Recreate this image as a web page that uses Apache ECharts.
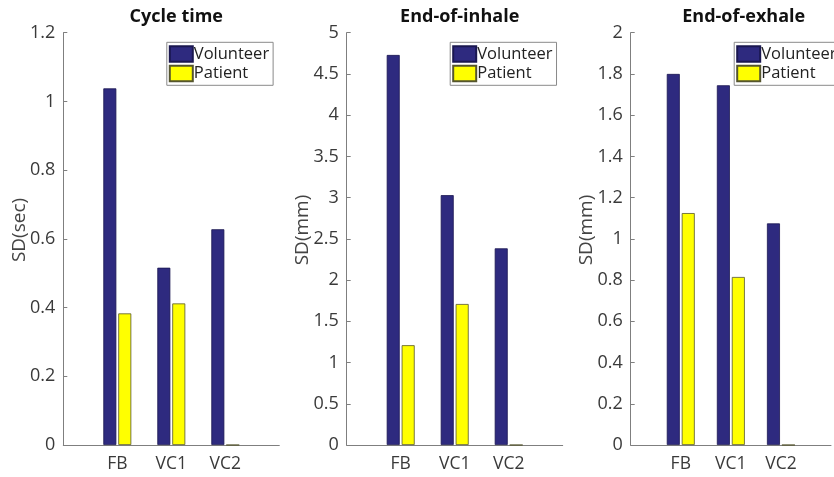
<!DOCTYPE html>
<html>
<head>
<meta charset="utf-8">
<script src="https://cdn.jsdelivr.net/npm/echarts@6/dist/echarts.min.js"></script>
<style>
  html, body { margin: 0; padding: 0; background: #ffffff; }
  #chart { width: 834px; height: 477px; }
</style>
</head>
<body>
<div id="chart"></div>
<script>
// Breathing-variability standard deviations per coaching method
const categories = ['FB', 'VC1', 'VC2'];
const seriesNames = ['Volunteer', 'Patient'];

const cycleVolunteer = [1.038, 0.516, 0.628];
const cyclePatient = [0.383, 0.412, 0];

const inhaleVolunteer = [4.73, 3.03, 2.385];
const inhalePatient = [1.21, 1.71, 0];

const exhaleVolunteer = [1.80, 1.745, 1.075];
const exhalePatient = [1.125, 0.815, 0];

const panelTitles = ['Cycle time', 'End-of-inhale', 'End-of-exhale'];
const yNames = ['SD(sec)', 'SD(mm)', 'SD(mm)'];
const yMax = [1.2, 5, 2];
const yStep = [0.2, 0.5, 0.2];

const panels = [
  [cycleVolunteer, cyclePatient],
  [inhaleVolunteer, inhalePatient],
  [exhaleVolunteer, exhalePatient]
];

const FONT = 'Open Sans';
const colors = ['#2e2a7f', '#ffff00'];
const edge = ['#1a1750', '#55552e'];

// Axes run from 0 to 4 with the groups at 1, 2, 3
const xCats = [''].concat(categories, ['']);
const pad = arr => ['-'].concat(arr, ['-']);

const gridLeft = [63.3, 346.7, 630.7];
const gridTop = 32.7, gridHeight = 412.3, gridWidth = 216;

const option = {
  animation: false,
  backgroundColor: '#ffffff',
  title: [], grid: [], xAxis: [], yAxis: [], legend: [], series: [], graphic: []
};

panels.forEach((pair, i) => {
  const gl = gridLeft[i];
  option.title.push({
    text: panelTitles[i],
    left: gl + gridWidth / 2,
    top: 3,
    textAlign: 'center',
    textStyle: { fontFamily: FONT, fontWeight: 'bold', fontSize: 18, color: '#111111' }
  });
  option.grid.push({ left: gl, top: gridTop, width: gridWidth, height: gridHeight, containLabel: false });
  option.xAxis.push({
    type: 'category', gridIndex: i, data: xCats, boundaryGap: false,
    axisLine: { lineStyle: { color: '#7f7f7f', width: 1 } },
    axisTick: { show: false },
    axisLabel: { fontFamily: FONT, fontSize: 17.5, color: '#3a3a3a', margin: 10, interval: 0 },
    splitLine: { show: false }
  });
  option.yAxis.push({
    type: 'value', gridIndex: i, min: 0, max: yMax[i], interval: yStep[i],
    axisLine: { show: true, lineStyle: { color: '#7f7f7f', width: 1 } },
    axisTick: { show: true, inside: true, length: 4, lineStyle: { color: '#7f7f7f' } },
    axisLabel: { fontFamily: FONT, fontSize: 18, color: '#3a3a3a', margin: 8 },
    splitLine: { show: false }
  });
  option.legend.push({
    orient: 'vertical',
    left: gl + 103.5,
    top: 42.3,
    data: seriesNames,
    icon: 'rect',
    itemWidth: 23,
    itemHeight: 15.5,
    itemGap: 2,
    padding: [3, 4, 3, 2],
    borderColor: '#8a8a8a',
    borderWidth: 1,
    backgroundColor: '#ffffff',
    selectedMode: false,
    textStyle: { fontFamily: FONT, fontSize: 16.5, color: '#222222', lineHeight: 17, padding: [0, 0, 0, -4] }
  });
  pair.forEach((vals, s) => {
    option.series.push({
      name: seriesNames[s],
      type: 'bar',
      xAxisIndex: i, yAxisIndex: i,
      data: pad(vals),
      barWidth: 13,
      barGap: '15%',
      itemStyle: { color: colors[s], borderColor: edge[s], borderWidth: 0.8 },
      emphasis: { disabled: true }
    });
  });
  option.graphic.push({
    type: 'text',
    x: gl - 44,
    y: 230,
    rotation: Math.PI / 2,
    style: {
      text: yNames[i],
      fontFamily: FONT, fontSize: 19, fill: '#444444',
      align: 'center', verticalAlign: 'middle'
    }
  });
});

const chart = echarts.init(document.getElementById('chart'), null, { renderer: 'canvas' });
chart.setOption(option);
</script>
</body>
</html>
